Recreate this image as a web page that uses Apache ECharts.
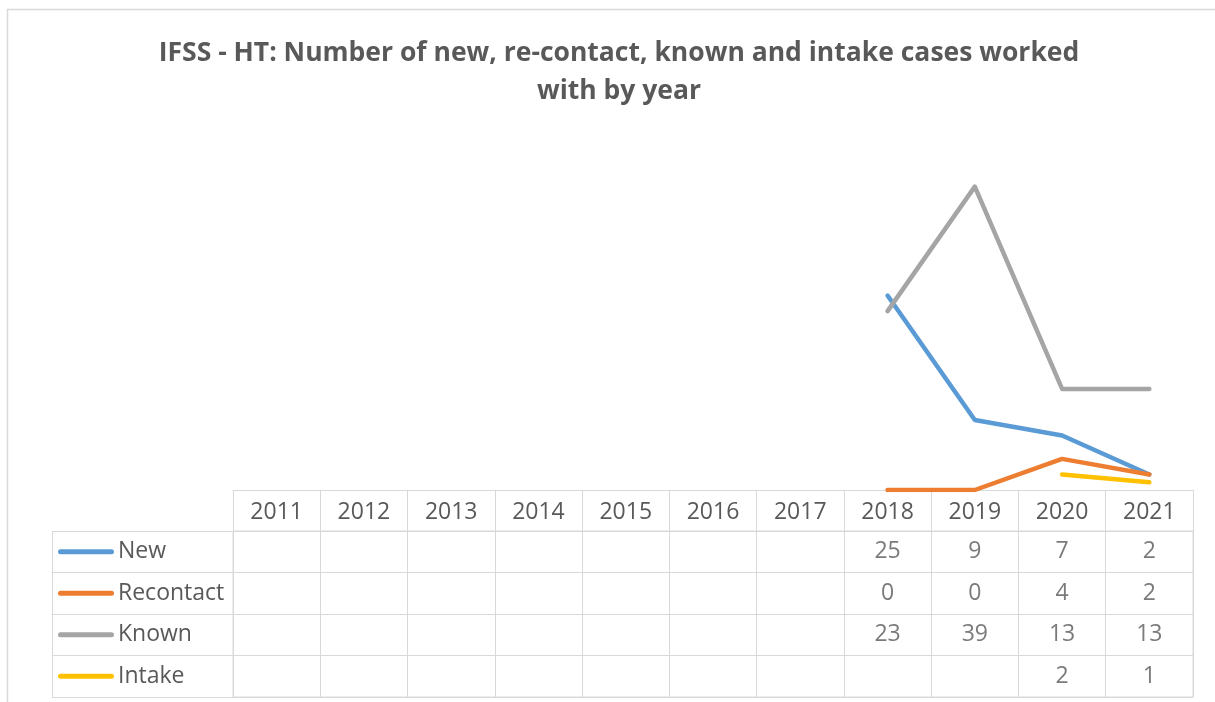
<!DOCTYPE html>
<html>
<head>
<meta charset="utf-8">
<title>IFSS - HT cases by year</title>
<script src="https://cdn.jsdelivr.net/npm/echarts@6/dist/echarts.min.js"></script>
<style>
  html, body { margin: 0; padding: 0; background: #fff; }
  #main { width: 1215px; height: 702px; }
</style>
</head>
<body>
<div id="main"></div>
<script>
// 数据
const years = ['2011', '2012', '2013', '2014', '2015', '2016', '2017', '2018', '2019', '2020', '2021'];
const seriesNames = ['New', 'Recontact', 'Known', 'Intake'];
const newCases = [null, null, null, null, null, null, null, 25, 9, 7, 2];
const recontactCases = [null, null, null, null, null, null, null, 0, 0, 4, 2];
const knownCases = [null, null, null, null, null, null, null, 23, 39, 13, 13];
const intakeCases = [null, null, null, null, null, null, null, null, null, 2, 1];
const colors = ['#5B9BD5', '#ED7D31', '#A5A5A5', '#FFC000'];

const allValues = [newCases, recontactCases, knownCases, intakeCases];
const textColor = '#595959';
const lineColor = '#D9D9D9';
const font = "'Open Sans', 'Noto Sans', sans-serif";

// 表格里的数字 -> [x, 行, 值]
const cells = [];
allValues.forEach((arr, r) => {
  arr.forEach((v, i) => {
    if (v !== null) cells.push([i, r, v]);
  });
});

const rich = {
  n: { fontSize: 23, color: textColor, fontFamily: font, padding: [0, 0, 0, 4], verticalAlign: 'middle' },
};
colors.forEach((c, i) => {
  rich['k' + i] = { width: 56, height: 5, backgroundColor: c, borderRadius: 3, verticalAlign: 'middle' };
});

const chart = echarts.init(document.getElementById('main'));
chart.setOption({
  animation: false,
  title: {
    text: 'IFSS - HT: Number of new, re-contact, known and intake cases worked\nwith by year',
    left: 614,
    top: 29,
    textAlign: 'center',
    textStyle: {
      fontFamily: font,
      fontWeight: 'bold',
      fontSize: 26.5,
      lineHeight: 38,
      color: textColor,
    },
  },
  grid: [
    { left: 233, right: 22, top: 140, height: 350 },
    { left: 233, right: 22, top: 531, height: 166, show: true, borderColor: lineColor, borderWidth: 1 },
  ],
  xAxis: [
    {
      type: 'category',
      gridIndex: 0,
      data: years,
      boundaryGap: true,
      axisLine: { lineStyle: { color: lineColor, width: 1 } },
      axisTick: { show: true, interval: 0, length: 207, lineStyle: { color: lineColor, width: 1 } },
      axisLabel: { interval: 0, margin: 10, fontSize: 23, lineHeight: 24, color: textColor, fontFamily: font },
    },
    {
      type: 'category',
      gridIndex: 1,
      data: years,
      show: false,
    },
  ],
  yAxis: [
    { type: 'value', gridIndex: 0, min: 0, max: 45, interval: 5, show: false },
    {
      type: 'category',
      gridIndex: 1,
      data: seriesNames,
      inverse: true,
      boundaryGap: true,
      axisLine: { show: false },
      axisTick: { show: true, interval: 0, length: 181, lineStyle: { color: lineColor, width: 1 } },
      splitLine: { show: true, interval: 0, lineStyle: { color: lineColor, width: 1 } },
      axisLabel: {
        interval: 0,
        margin: 175,
        align: 'left',
        formatter: (v, i) => '{k' + i + '|}{n|' + v + '}',
        rich: rich,
      },
    },
  ],
  graphic: [
    // 外框
    { type: 'rect', shape: { x: 7.5, y: 9.5, width: 1220, height: 710 }, style: { fill: 'none', stroke: lineColor, lineWidth: 1.5 }, silent: true },
    // 表格左边线
    { type: 'line', shape: { x1: 52.5, y1: 531, x2: 52.5, y2: 697 }, style: { stroke: lineColor, lineWidth: 1 }, silent: true },
  ],
  series: seriesNames.map((name, i) => ({
    name: name,
    type: 'line',
    xAxisIndex: 0,
    yAxisIndex: 0,
    data: allValues[i],
    showSymbol: false,
    connectNulls: false,
    lineStyle: { color: colors[i], width: 4.5, cap: 'round', join: 'round' },
    itemStyle: { color: colors[i] },
    z: 3 + i,
  })).concat([
    {
      type: 'scatter',
      xAxisIndex: 1,
      yAxisIndex: 1,
      data: cells,
      symbolSize: 0,
      silent: true,
      label: {
        show: true,
        position: 'inside',
        formatter: (p) => String(p.value[2]),
        fontSize: 23,
        color: textColor,
        fontFamily: font,
      },
    },
  ]),
});
</script>
</body>
</html>
